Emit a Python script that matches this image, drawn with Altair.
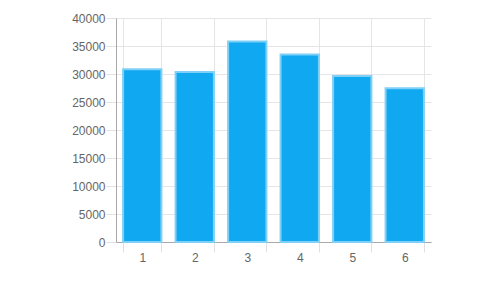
import altair as alt
import pandas as pd

categories = ["1", "2", "3", "4", "5", "6"]
values = [30850, 30350, 35800, 33500, 29650, 27450]

df = pd.DataFrame({"cat": categories, "val": values})

font = "Liberation Sans"

chart = alt.Chart(df).mark_bar(
    color="#10a9f1", stroke="#7fd0f7", strokeWidth=2
).encode(
    x=alt.X("cat:N", sort=categories, title=None,
            scale=alt.Scale(paddingInner=0.27, paddingOuter=0.135),
            axis=alt.Axis(labelAngle=0, tickBand="extent", grid=True,
                          gridColor="#e5e5e5", tickColor="#e0e0e0", tickSize=10,
                          domainColor="#a8a8a8", labelColor="#666666",
                          labelFont=font, labelFontSize=12, labelPadding=0)),
    y=alt.Y("val:Q", title=None,
            scale=alt.Scale(domain=[0, 40000], nice=False),
            axis=alt.Axis(values=list(range(0, 40001, 5000)), grid=True, format="d",
                          gridColor="#e5e5e5", tickColor="#e0e0e0", tickSize=10,
                          domainColor="#a8a8a8", labelColor="#666666",
                          labelFont=font, labelFontSize=12, labelPadding=1)),
).properties(
    width=315, height=224,
    autosize=alt.AutoSizeParams(type="none"),
    padding={"left": 116, "top": 18, "right": 69, "bottom": 58},
).configure_view(stroke=None)

chart.save("out.html", embed_options={"renderer": "svg", "actions": False})
